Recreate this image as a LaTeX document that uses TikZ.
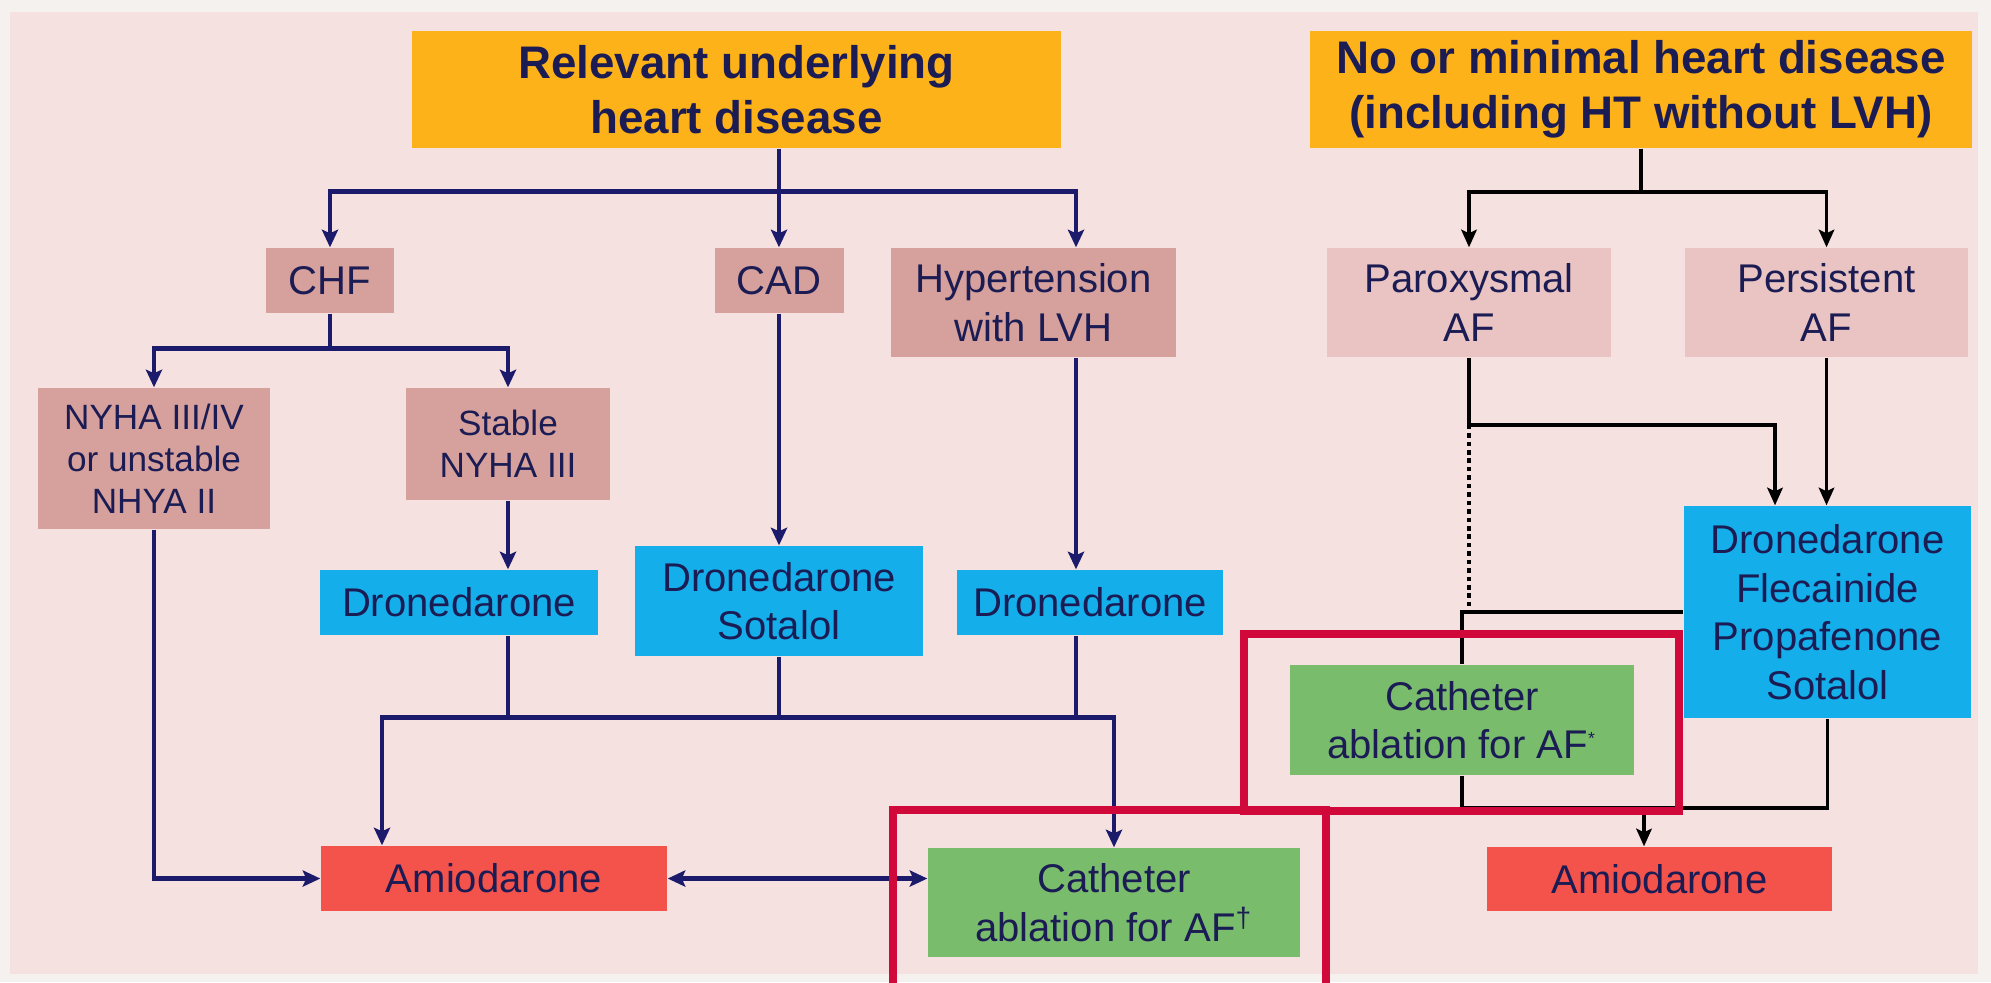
\documentclass[tikz,border=0pt]{standalone}
\usepackage{fontspec}
\setmainfont{Liberation Sans}
\usetikzlibrary{arrows.meta}
\definecolor{paper}{RGB}{245,241,238}
\definecolor{blush}{RGB}{246,225,225}
\definecolor{amber}{RGB}{252,178,24}
\definecolor{rose}{RGB}{214,161,156}
\definecolor{roselite}{RGB}{233,196,194}
\definecolor{sky}{RGB}{20,174,234}
\definecolor{coral}{RGB}{244,83,76}
\definecolor{leaf}{RGB}{121,189,108}
\definecolor{crimson}{RGB}{209,8,58}
\definecolor{navy}{RGB}{27,26,107}
\definecolor{ink}{RGB}{28,28,84}

\begin{document}
\begin{tikzpicture}[
  x=0.1mm, y=-0.1mm,
  box/.style={inner sep=0pt,align=center,text=ink,font=\fontsize{11.4pt}{13.8pt}\selectfont},
  head/.style={box,fill=amber,font=\bfseries\fontsize{13pt}{15.6pt}\selectfont},
  cond/.style={box,fill=rose},
  condlite/.style={box,fill=roselite},
  small/.style={font=\fontsize{10pt}{12pt}\selectfont},
  drug/.style={box,fill=sky},
  amio/.style={box,fill=coral},
  ablate/.style={box,fill=leaf},
  link/.style={draw=navy,line width=1.3pt},
  arrow/.style={link,-{Stealth[length=5pt,width=4.6pt,inset=1pt]}},
  both/.style={link,{Stealth[length=5pt,width=4.6pt,inset=1pt]}-{Stealth[length=5pt,width=4.6pt,inset=1pt]}},
  linkR/.style={draw=black,line width=1.1pt},
  arrowR/.style={linkR,-{Stealth[length=5pt,width=4.4pt,inset=1pt]}},
  ring/.style={draw=crimson,line width=2.3pt}]
  \useasboundingbox (0,0) rectangle (1991,982);
  \fill[paper] (0,0) rectangle (1991,982);
  \fill[blush] (10,12) rectangle (1978,974);

  % left half: relevant heart disease
  \node[head,minimum width=64.9mm,minimum height=11.7mm] (rel) at (736.5,89.5) {Relevant underlying\\heart disease};
  \node[cond,minimum width=12.8mm,minimum height=6.5mm] (chf) at (330,280.5) {CHF};
  \node[cond,minimum width=12.9mm,minimum height=6.5mm] (cad) at (779,280.5) {CAD};
  \node[cond,minimum width=28.5mm,minimum height=10.9mm] (hyp) at (1033.5,302.5) {Hypertension\\with LVH};
  \node[cond,small,minimum width=23.2mm,minimum height=14.1mm] (nyha) at (154,458.5) {NYHA III/IV\\or unstable\\NHYA II};
  \node[cond,small,minimum width=20.4mm,minimum height=11.2mm] (stable) at (508,444) {Stable\\NYHA III};
  \node[drug,minimum width=27.8mm,minimum height=6.5mm] (dronA) at (459,602.5) {Dronedarone};
  \node[drug,minimum width=28.8mm,minimum height=11mm] (dronsot) at (779,601) {Dronedarone\\Sotalol};
  \node[drug,minimum width=26.6mm,minimum height=6.5mm] (dronB) at (1090,602.5) {Dronedarone};
  \node[amio,minimum width=34.6mm,minimum height=6.5mm] (amioL) at (494,878.5) {Amiodarone};
  \node[ablate,minimum width=37.2mm,minimum height=10.9mm] (ablateL) at (1114,902.5) {Catheter\\ablation for AF\textsuperscript{†}};

  % right half: no or minimal heart disease
  \node[head,minimum width=66.2mm,minimum height=11.7mm] (nomin) at (1641,89.5) {No or minimal heart disease\\(including HT without LVH)};
  \node[condlite,minimum width=28.4mm,minimum height=10.9mm] (parox) at (1469,302.5) {Paroxysmal\\AF};
  \node[condlite,minimum width=28.3mm,minimum height=10.9mm] (persist) at (1826.5,302.5) {Persistent\\AF};
  \node[drug,minimum width=28.7mm,minimum height=21.2mm] (dfps) at (1827.5,612) {Dronedarone\\Flecainide\\Propafenone\\Sotalol};
  \node[ablate,minimum width=34.4mm,minimum height=11mm] (ablateR) at (1462,720) {Catheter\\ablation for AF\textsuperscript{\fontsize{5pt}{5pt}\selectfont *}};
  \node[amio,minimum width=34.5mm,minimum height=6.4mm] (amioR) at (1659.5,879) {Amiodarone};

  % left connectors
  \draw[link] (rel.south -| cad.north) -- ++(0,43) coordinate (splitL);
  \draw[arrow] (splitL) -- (cad.north);
  \draw[arrow] (splitL) -| (chf.north);
  \draw[arrow] (splitL) -| ([xshift=4.25mm]hyp.north);
  \draw[link] (chf.south) -- ++(0,35) coordinate (splitC);
  \draw[arrow] (splitC) -| (nyha.north);
  \draw[arrow] (splitC) -| (stable.north);
  \draw[arrow] (stable.south) -- (stable.south |- dronA.north);
  \draw[arrow] (cad.south) -- (dronsot.north);
  \draw[arrow] ([xshift=4.25mm]hyp.south) -- ([xshift=4.25mm]hyp.south |- dronB.north);
  \draw[link] (dronA.south -| stable.south) -- ++(0,82) coordinate (joinL);
  \draw[link] (dronsot.south) -- (dronsot.south |- joinL);
  \draw[link] ([xshift=4.25mm]hyp.south |- dronB.south) -- ([xshift=4.25mm]hyp.south |- joinL);
  \draw[arrow] (joinL) -| ([xshift=-11.2mm]amioL.north);
  \draw[arrow] (joinL) -| (ablateL.north);
  \draw[arrow] (nyha.south) |- (amioL.west);
  \draw[both] (amioL.east) -- (amioL.east -| ablateL.west);

  % right connectors
  \draw[linkR] (nomin.south) -- ++(0,43) coordinate (splitR);
  \draw[arrowR] (splitR) -| (parox.north);
  \draw[arrowR] (splitR) -| (persist.north);
  \draw[linkR] (parox.south) -- ++(0,67) coordinate (paroxbend);
  \draw[arrowR] (paroxbend) -| ([xshift=-5.25mm]dfps.north);
  \draw[arrowR] (persist.south) -- (persist.south |- dfps.north);
  \draw[linkR,dash pattern=on 1.3pt off 1.1pt] (paroxbend) -- (paroxbend |- dfps.west);
  \draw[linkR] (dfps.west) -| (ablateR.north);
  \draw[linkR] (ablateR.south) -- ++(0,32) coordinate (joinR);
  \draw[linkR] (joinR) -| (dfps.south);
  \draw[arrowR] ([xshift=-1.55mm]amioR.north |- joinR) -- ([xshift=-1.55mm]amioR.north);

  % highlight frames
  \draw[ring] (893,990) |- (1326,810) -- (1326,990);
  \draw[ring] (1244,634) rectangle (1679,811);
\end{tikzpicture}
\end{document}
